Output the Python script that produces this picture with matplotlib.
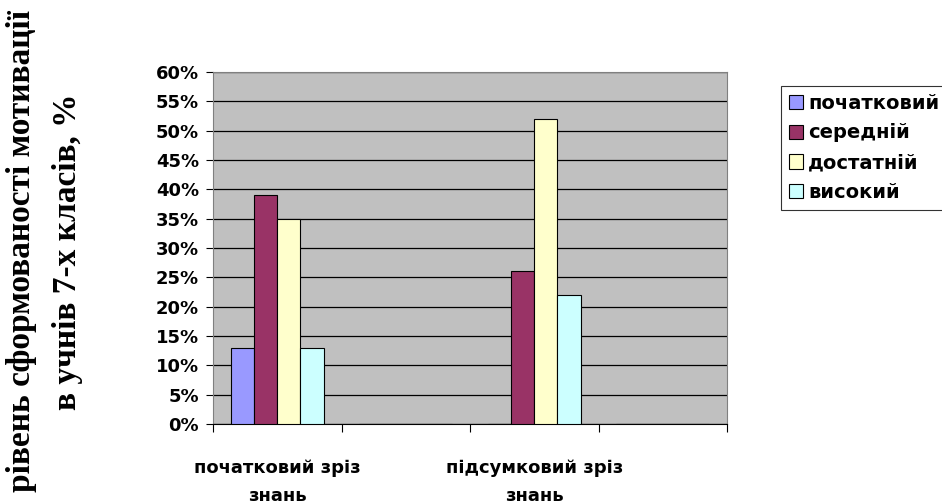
import matplotlib
matplotlib.use("Agg")
from matplotlib import pyplot as plt
import numpy as np

# data
categories = ['початковий зріз\nзнань', '', 'підсумковий зріз\nзнань', '']
levels = ['початковий', 'середній', 'достатній', 'високий']
values = {
    'початковий': [13, 0, 0, 0],
    'середній': [39, 0, 26, 0],
    'достатній': [35, 0, 52, 0],
    'високий': [13, 0, 22, 0],
}
colors = ['#9999FF', '#993366', '#FFFFCC', '#CCFFFF']
yticks = np.arange(0, 61, 5)


def main():
    plt.rcParams['font.family'] = 'DejaVu Sans'
    fig = plt.figure(figsize=(9.42, 5.03), dpi=100)
    ax = fig.add_axes([213 / 942, 1 - 424 / 503, (727 - 213) / 942, (424 - 72) / 503])
    ax.set_facecolor('#C0C0C0')

    x = np.arange(len(categories))
    w = 0.18
    for i, lev in enumerate(levels):
        ax.bar(x + (i - 1.5) * w, values[lev], width=w, color=colors[i],
               edgecolor='black', linewidth=0.8, label=lev, zorder=3)

    ax.set_xlim(-0.5, len(categories) - 0.5)
    ax.set_ylim(0, 60)
    ax.set_yticks(yticks)
    ax.set_yticklabels([f'{v}%' for v in yticks], fontsize=13, fontweight='bold')
    ax.yaxis.grid(True, color='black', linewidth=0.9, zorder=1)
    ax.set_axisbelow(True)

    # category labels centered, ticks at category boundaries
    ax.set_xticks(np.arange(-0.5, len(categories), 1.0))
    ax.set_xticklabels([])
    ax.set_xticks(x, minor=True)
    ax.set_xticklabels(categories, minor=True, fontsize=13, fontweight='bold',
                       linespacing=1.7)
    ax.tick_params(axis='x', which='minor', length=0, pad=25)
    ax.tick_params(axis='x', which='major', length=6, direction='out')
    ax.tick_params(axis='y', length=5, direction='out', pad=5)

    for s in ['top', 'right']:
        ax.spines[s].set_color('#808080')
    ax.spines['left'].set_color('#808080')
    ax.spines['bottom'].set_color('black')

    fig.text(22 / 942, 0.5, 'рівень сформованості мотивації',
             rotation=90, ha='center', va='center', family='Liberation Serif',
             fontweight='bold', fontsize=24)
    fig.text(68 / 942, 0.5, 'в учнів 7-х класів, %',
             rotation=90, ha='center', va='center', family='Liberation Serif',
             fontweight='bold', fontsize=24)

    leg = ax.legend(loc='upper left', bbox_to_anchor=(781 / 942, 1 - 86 / 503),
                    bbox_transform=fig.transFigure, frameon=True, fancybox=False,
                    handlelength=0.75, handleheight=0.75, handletextpad=0.25,
                    borderpad=0.4, labelspacing=0.55, borderaxespad=0,
                    prop={'weight': 'bold', 'size': 14})
    leg.get_frame().set_edgecolor('black')
    leg.get_frame().set_linewidth(0.8)

    fig.savefig('out.png', dpi=100)


if __name__ == "__main__":
    main()
